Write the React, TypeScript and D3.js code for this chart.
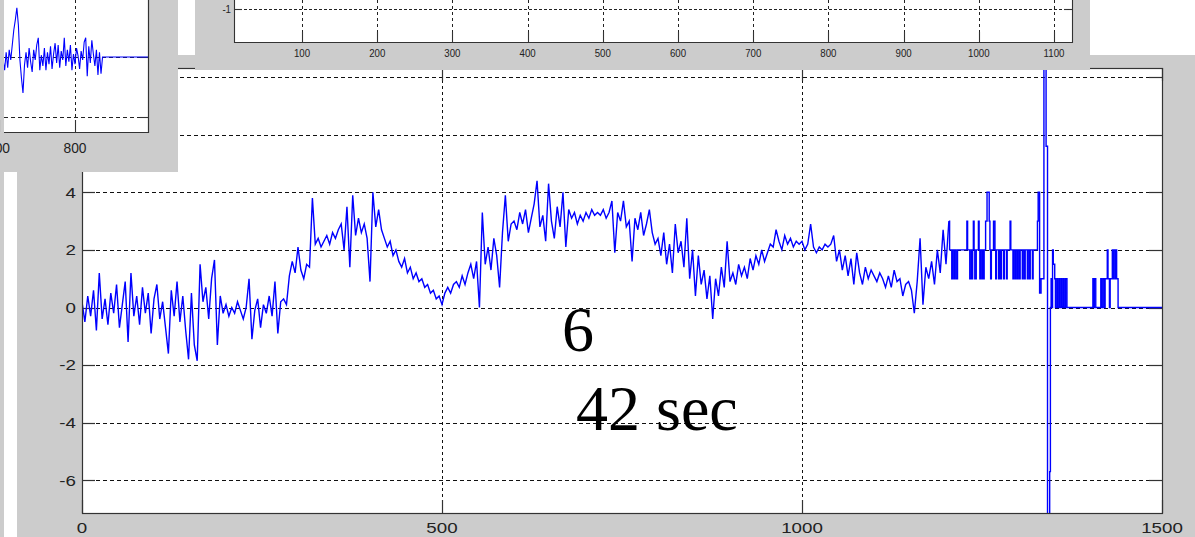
import React from 'react'
import * as d3 from 'd3'

// main trace, one reading every 4 samples
const traceStep = 4
const traceValues = [
  0.2, -0.5, 0.4, -0.3, 0.6, -0.8, 1.2, -0.4, 0.3, -0.6,
  0.5, -0.2, 0.8, -0.7, 0.1, 0.9, -1.2, 1.2, -0.3, 0.4,
  -0.6, 0.7, -0.2, 0.5, -0.9, 0.3, 0.8, -0.4, 0.2, -0.7,
  -1.6, 0.6, -0.3, 0.9, -0.5, 0.4, -0.8, -1.8, 0.5, -1.3,
  -1.85, 1.5, 0.2, 0.7, -0.4, 1.0, 1.65, -1.3, 0.4, -0.2,
  0.1, -0.3, 0.0, -0.2, 0.2, -0.1, -0.4, 0.0, 1.0, -1.1,
  -0.1, 0.3, -0.7, 0.1, -0.2, 0.4, -0.3, 0.9, -0.9, 0.2,
  0.3, 0.1, 1.1, 1.6, 1.2, 2.1, 1.3, 1.0, 1.5, 1.4,
  3.8, 2.2, 2.4, 2.1, 2.3, 2.5, 2.2, 2.6, 2.4, 2.7,
  2.9, 2.0, 3.5, 1.4, 3.9, 2.5, 3.1, 2.6, 2.9, 2.4,
  0.9, 4.0, 2.8, 3.4, 2.7, 2.4, 2.1, 2.3, 1.8, 2.0,
  1.6, 1.4, 1.7, 1.2, 1.4, 1.0, 1.2, 0.9, 1.0, 0.7,
  0.8, 0.5, 0.6, 0.3, 0.4, 0.1, 0.5, 0.7, 0.5, 0.8,
  0.9, 0.7, 1.1, 0.8, 1.2, 1.5, 1.0, 1.6, 0.0, 3.3,
  1.5, 2.1, 1.3, 2.4, 1.8, 0.7, 2.6, 3.9, 2.3, 2.9,
  3.0, 2.7, 3.3, 2.9, 3.4, 2.6, 3.1, 3.6, 4.4, 2.8,
  3.2, 2.3, 4.3, 3.0, 2.4, 3.5, 2.8, 4.0, 2.1, 3.4,
  3.1, 3.3, 2.9, 3.2, 3.0, 3.3, 3.1, 3.4, 3.2, 3.3,
  3.2, 3.4, 3.1, 3.3, 3.7, 1.9, 3.3, 3.0, 3.7, 2.8,
  3.0, 1.6, 3.1, 2.7, 3.3, 2.5, 2.9, 3.4, 2.6, 2.2,
  2.4, 1.8, 2.6, 1.5, 2.2, 1.2, 2.9, 1.9, 2.3, 1.4,
  3.1, 1.0, 2.0, 0.4, 1.8, 0.8, 1.3, 0.3, 1.1, -0.4,
  1.0, 0.4, 1.4, 0.7, 2.3, 0.9, 1.2, 0.8, 1.5, 1.1,
  1.4, 1.0, 1.7, 1.3, 1.8, 1.5, 2.0, 1.6, 1.9, 2.2,
  2.1, 2.7, 2.3, 2.0, 2.5, 2.2, 2.4, 2.1, 2.3, 2.2,
  2.3, 2.0, 2.2, 2.9, 2.1, 1.9, 2.1, 2.0, 2.2, 2.1,
  2.2, 2.5, 1.6, 2.0, 1.3, 1.8, 1.1, 1.7, 0.8, 1.9,
  1.2, 0.8, 1.4, 1.0, 1.3, 1.1, 0.9, 1.2, 1.0, 0.7,
  1.1, 0.7, 1.3, 0.9, 1.0, 0.4, 0.8, 0.9, 0.6, -0.2,
  0.9, 2.4, 0.1, 1.4, 1.0, 1.6, 0.8, 2.0, 1.2, 2.7,
  1.5, 3.0,
]

// quantized tail: sample where the level changes, and the new level
const stepSamples = [
  1205, 1208, 1209, 1211, 1212, 1214, 1216, 1229, 1230, 1233, 1235, 1236, 1237, 1238, 1239, 1240,
  1242, 1245, 1246, 1247, 1248, 1250, 1251, 1252, 1253, 1255, 1257, 1260, 1261, 1262, 1263, 1266,
  1268, 1269, 1270, 1273, 1274, 1276, 1277, 1280, 1281, 1284, 1285, 1289, 1290, 1293, 1294, 1296,
  1297, 1299, 1300, 1302, 1303, 1306, 1307, 1309, 1310, 1313, 1314, 1316, 1317, 1320, 1321, 1327,
  1328, 1330, 1332, 1336, 1339, 1341, 1344, 1345, 1346, 1347, 1348, 1349, 1351, 1352, 1354, 1355,
  1357, 1358, 1360, 1361, 1363, 1364, 1366, 1368, 1404, 1405, 1406, 1408, 1415, 1416, 1418, 1420,
  1421, 1424, 1425, 1427, 1428, 1431, 1432, 1433, 1435, 1436, 1437, 1439, 1500,
]
const stepLevels = [
  2, 1, 2, 1, 2, 1, 2, 3, 2, 1, 2, 1, 2, 3, 2, 1,
  2, 3, 2, 1, 2, 1, 2, 1, 2, 3, 4, 3, 2, 1, 2, 3,
  2, 1, 2, 1, 2, 1, 2, 1, 2, 1, 2, 3, 2, 1, 2, 1,
  2, 1, 2, 1, 2, 1, 2, 1, 2, 1, 2, 1, 2, 1, 2, 3,
  4, 0.5, 1, 9, 5.6, -8, -5.7, 0, 1, 0, 2, 1.5, 1, 0, 1, 0,
  1, 0, 1, 0, 1, 0, 1, 0, 1, 0, 1, 0, 1, 0, 1, 0,
  1, 2, 1, 0, 1, 2, 1, 2, 1, 2, 1, 0, 0,
]

const mainXTicks = [0, 500, 1000, 1500]
const mainYTicks = [-6, -4, -2, 0, 2, 4, 6, 8]

// strip of the upper figure that shows
const topXTicks = [100, 200, 300, 400, 500, 600, 700, 800, 900, 1000, 1100]
const topYTicks = [-1]

// corner figure trace, one reading every 8 samples, then flat
const cornerXTicks = [400, 800]
const cornerYTicks = [-1, 0]
const cornerStart = 424
const cornerStep = 8
const cornerValues = [
  -0.05, -0.22, 0.08, -0.18, 0.12, -0.05, 0.2, 0.45, 0.62, 0.82, 0.53, -0.05, -0.35, -0.6, -0.13,
  0.08, -0.18, 0.15, -0.08, -0.25, 0.12, -0.05, 0.2, 0.32, -0.22, 0.03, -0.15, 0.15, -0.22, 0.08,
  -0.12, 0.18, -0.2, 0.05, 0.23, -0.1, 0.2, -0.18, 0.1, -0.05, 0.32, -0.15, 0.12, -0.08, 0.2,
  -0.22, 0.05, -0.12, 0.15, 0.02, -0.2, 0.1, -0.05, 0.25, 0.32, -0.32, 0.18, -0.1, 0.28, 0.05,
  -0.15, 0.12, -0.3, 0.08, -0.28, 0.0, 0.0,
]
const cornerFlatEnd = 1200

const notes = ['6', '42 sec']

const GREY = '#cccccc'
const AXIS = '#333'
const BLUE = '#0000ff'
const SANS = 'Liberation Sans, Arial, sans-serif'

const crisp = (v: number) => Math.round(v) + 0.5

export default function App() {
  // main axes
  const x = d3.scaleLinear().domain([0, 1500]).range([82, 1162])
  const y = d3.scaleLinear().domain([0, 8]).range([307.5, 77.1])
  const top = 68
  const bottom = 513
  const tracePts = traceValues.map((v, i) => [i * traceStep, v] as [number, number])
  const stepPts = stepSamples.map((s, i) => [s, stepLevels[i]] as [number, number])
  const tracePath = d3
    .line<[number, number]>()
    .x((d) => x(d[0]))
    .y((d) => y(d[1]))(tracePts)
  const stepPath = d3
    .line<[number, number]>()
    .x((d) => x(d[0]))
    .y((d) => y(d[1]))
    .curve(d3.curveStepAfter)([tracePts[tracePts.length - 1], ...stepPts])

  // top strip axes
  const tx = d3.scaleLinear().domain([100, 1100]).range([302, 1054])
  const ty = d3.scaleLinear().domain([-1.5, -1]).range([42, 9.3])
  const tLeft = 234
  const tRight = 1072
  const tBottom = 42

  // corner axes
  const cx = d3.scaleLinear().domain([400, 800]).range([-1.5, 75])
  const cy = d3.scaleLinear().domain([-1, 0]).range([117, 57])
  const cRight = 148
  const cBottom = 132
  const cornerPts = cornerValues.map(
    (v, i) => [cornerStart + i * cornerStep, v] as [number, number]
  )
  cornerPts.push([cornerFlatEnd, 0])
  const cornerPath = d3
    .line<[number, number]>()
    .x((d) => cx(d[0]))
    .y((d) => cy(d[1]))(cornerPts)

  // labels for 6 and 8 sit under the corner figure
  const shownY = mainYTicks.filter((t) => y(t) > 175)

  return (
    <div style={{ position: 'absolute', left: 0, top: 0 }}>
      <svg width={1195} height={537} style={{ display: 'block', background: '#fff' }}>
        <defs>
          <clipPath id="mainClip">
            <rect x={82} y={top} width={1080} height={bottom - top} />
          </clipPath>
          <clipPath id="cornerClip">
            <rect x={4} y={0} width={cRight - 4} height={cBottom} />
          </clipPath>
        </defs>

        {/* figure behind, left edge */}
        <rect x={0} y={172} width={4} height={365} fill={GREY} />

        {/* main figure */}
        <rect x={17} y={55} width={1178} height={482} fill={GREY} />
        <rect x={82} y={top} width={1080} height={bottom - top} fill="#fff" />
        <g stroke="#111" strokeWidth={1} fill="none">
          {mainYTicks.map((t) => (
            <line key={'gy' + t} x1={82} x2={1162} y1={crisp(y(t))} y2={crisp(y(t))} strokeDasharray="4,3" />
          ))}
          {mainXTicks.slice(1, -1).map((t) => (
            <line key={'gx' + t} x1={crisp(x(t))} x2={crisp(x(t))} y1={top} y2={bottom} strokeDasharray="3,3" />
          ))}
        </g>
        <g stroke={AXIS} strokeWidth={1.2}>
          {mainYTicks.map((t) => (
            <g key={'ty' + t}>
              <line x1={82} x2={95} y1={crisp(y(t))} y2={crisp(y(t))} />
              <line x1={1149} x2={1162} y1={crisp(y(t))} y2={crisp(y(t))} />
            </g>
          ))}
          {mainXTicks.map((t) => (
            <g key={'tx' + t}>
              <line x1={crisp(x(t))} x2={crisp(x(t))} y1={bottom} y2={bottom - 13} />
              <line x1={crisp(x(t))} x2={crisp(x(t))} y1={top} y2={top + 13} />
            </g>
          ))}
        </g>
        <g clipPath="url(#mainClip)" fill="none" stroke={BLUE} strokeWidth={1.4} strokeLinejoin="miter">
          <path d={tracePath ?? ''} />
          <path d={stepPath ?? ''} />
        </g>
        <rect x={82.5} y={top + 0.5} width={1080} height={bottom - top} fill="none" stroke={AXIS} strokeWidth={1.2} />
        <g fontFamily={SANS} fontSize={15} fill="#222">
          {shownY.map((t) => (
            <text key={'ly' + t} transform={`translate(76,${y(t) + 5.3}) scale(1.25,1)`} textAnchor="end">
              {t}
            </text>
          ))}
          {mainXTicks.map((t) => (
            <text key={'lx' + t} transform={`translate(${x(t)},532.7) scale(1.25,1)`} textAnchor="middle">
              {t}
            </text>
          ))}
        </g>
        <g fontFamily="Liberation Serif, Times New Roman, serif" fontSize={64} fill="#000">
          <text x={562} y={351}>
            {notes[0]}
          </text>
          <text x={576} y={430}>
            {notes[1]}
          </text>
        </g>

        {/* top strip figure */}
        <rect x={195} y={0} width={895} height={70} fill={GREY} />
        <rect x={tLeft} y={0} width={tRight - tLeft} height={tBottom} fill="#fff" />
        <g stroke="#222" strokeWidth={1} fill="none">
          {topYTicks.map((t) => (
            <line key={'tgy' + t} x1={tLeft} x2={tRight} y1={crisp(ty(t))} y2={crisp(ty(t))} strokeDasharray="3,2" />
          ))}
          {topXTicks.map((t) => (
            <line key={'tgx' + t} x1={crisp(tx(t))} x2={crisp(tx(t))} y1={0} y2={tBottom} strokeDasharray="3,3" />
          ))}
        </g>
        <g stroke={AXIS} strokeWidth={1.1}>
          {topXTicks.map((t) => (
            <line key={'ttx' + t} x1={crisp(tx(t))} x2={crisp(tx(t))} y1={tBottom} y2={tBottom - 10} />
          ))}
          {topYTicks.map((t) => (
            <g key={'tty' + t}>
              <line x1={tLeft} x2={tLeft + 8} y1={crisp(ty(t))} y2={crisp(ty(t))} />
              <line x1={tRight - 8} x2={tRight} y1={crisp(ty(t))} y2={crisp(ty(t))} />
            </g>
          ))}
          <path d={`M${tLeft + 0.5},0V${tBottom + 0.5}H${tRight + 0.5}V0`} fill="none" />
        </g>
        <g fontFamily={SANS} fontSize={11} fill="#222">
          {topXTicks.map((t) => (
            <text key={'tlx' + t} transform={`translate(${tx(t)},57) scale(0.88,1)`} textAnchor="middle">
              {t}
            </text>
          ))}
          {topYTicks.map((t) => (
            <text key={'tly' + t} transform={`translate(231,${ty(t) + 3.8}) scale(0.88,1)`} textAnchor="end">
              {t}
            </text>
          ))}
        </g>

        {/* corner figure */}
        <rect x={0} y={0} width={178} height={172} fill={GREY} />
        <rect x={4} y={0} width={cRight - 4} height={cBottom} fill="#fff" />
        <g stroke="#222" strokeWidth={1} fill="none">
          {cornerYTicks.map((t) => (
            <line key={'cgy' + t} x1={4} x2={cRight} y1={crisp(cy(t))} y2={crisp(cy(t))} strokeDasharray="4,3" />
          ))}
          {cornerXTicks.map((t) => (
            <line key={'cgx' + t} x1={crisp(cx(t))} x2={crisp(cx(t))} y1={0} y2={cBottom} strokeDasharray="3,3" />
          ))}
        </g>
        <g stroke={AXIS} strokeWidth={1.1}>
          {cornerXTicks.map((t) => (
            <line key={'ctx' + t} x1={crisp(cx(t))} x2={crisp(cx(t))} y1={cBottom} y2={cBottom - 12} />
          ))}
          {cornerYTicks.map((t) => (
            <line key={'cty' + t} x1={cRight - 8} x2={cRight} y1={crisp(cy(t))} y2={crisp(cy(t))} />
          ))}
        </g>
        <g clipPath="url(#cornerClip)">
          <path d={cornerPath ?? ''} fill="none" stroke={BLUE} strokeWidth={1.1} />
        </g>
        <path d={`M4,${cBottom + 0.5}H${cRight + 0.5}V0`} fill="none" stroke={AXIS} strokeWidth={1.2} />
        <g fontFamily={SANS} fontSize={15} fill="#222">
          {cornerXTicks.map((t) => (
            <text key={'clx' + t} transform={`translate(${cx(t)},153) scale(0.92,1)`} textAnchor="middle">
              {t}
            </text>
          ))}
        </g>
      </svg>
    </div>
  )
}
